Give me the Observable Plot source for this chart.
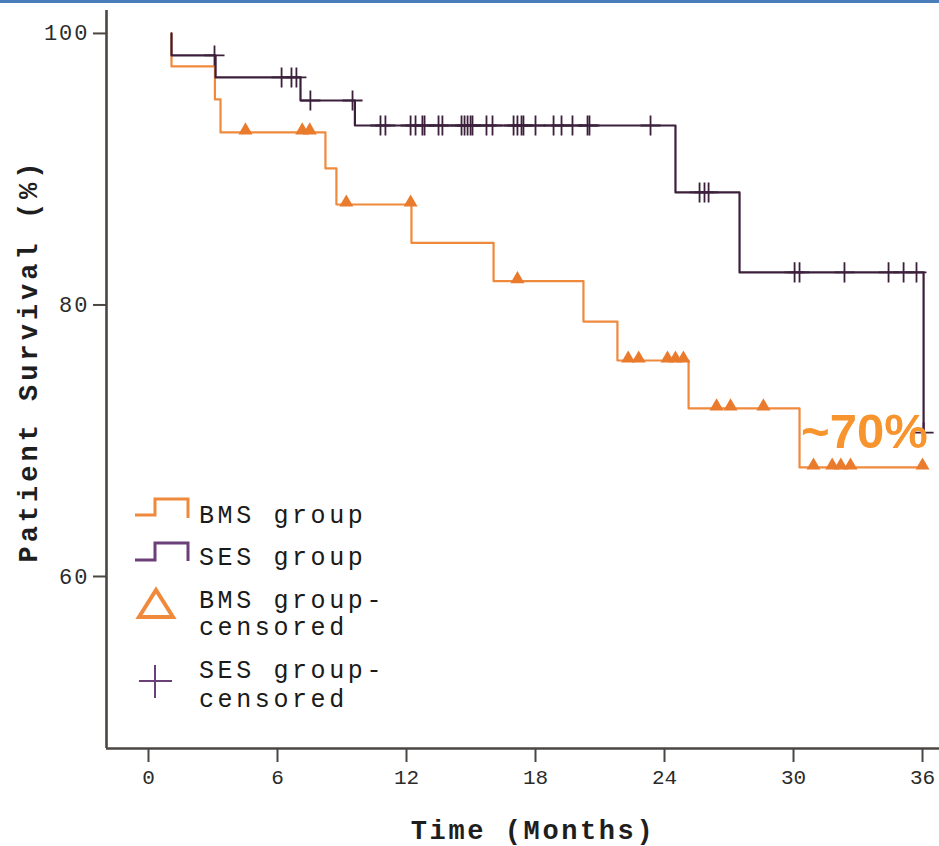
<!DOCTYPE html>
<html>
<head>
<meta charset="utf-8">
<script src="https://cdn.jsdelivr.net/npm/d3@7"></script>
<script src="https://cdn.jsdelivr.net/npm/@observablehq/plot@0.6"></script>
<style>
  html, body { margin: 0; padding: 0; background: #ffffff; }
  #wrap { position: relative; width: 939px; height: 846px; overflow: hidden; }
  #topbar { position: absolute; left: 0; top: 0; width: 939px; height: 3px; background: #4a7ebb; }
  #legend { position: absolute; left: 0; top: 0; pointer-events: none; }
</style>
</head>
<body>
<div id="wrap"><div id="topbar"></div></div>
<script>
// ---------- data ----------
// Kaplan-Meier steps: time (months) and survival (%)
const bmsTime = [1.07, 1.07, 3.09, 3.35, 8.23, 8.74, 12.23, 16.05, 20.23, 21.81, 25.12, 30.28, 36.05];
const bmsSurv = [100, 97.57, 95.14, 92.71, 90.06, 87.4, 84.58, 81.75, 78.78, 75.91, 72.38, 68.03, 68.03];
const sesTime = [1.07, 1.07, 3.12, 7.07, 9.6, 24.51, 27.49, 36.05];
const sesSurv = [100, 98.38, 96.76, 95.06, 93.22, 88.29, 82.4, 70.6];
// censored observation times (months)
const bmsCensored = [4.51, 7.15, 7.5, 9.2, 12.19, 17.16, 22.31, 22.8, 24.14, 24.51, 24.88, 26.42, 27.07, 28.6,
  30.93, 31.8, 32.2, 32.65, 36.0];
const sesCensored = [3.07, 6.19, 6.65, 6.88, 7.53, 9.49, 10.79, 11.02, 12.19, 12.42, 12.74, 12.84, 13.49, 13.67,
  14.56, 14.7, 14.84, 14.98, 15.07, 15.72, 16.0, 16.98, 17.16, 17.35, 17.44, 18.0, 18.84, 19.21, 19.72,
  20.42, 20.51, 23.35, 25.63, 25.86, 26.05, 30.05, 30.28, 32.37, 34.42, 35.12, 35.72, 36.05];
// axes
const xTicks = [0, 6, 12, 18, 24, 30, 36];
const yTicks = [60, 80, 100];
const xDomain = [-1.953, 36.79];
const yDomain = [47.33, 101.69];
const xTitle = "Time (Months)";
const yTitle = "Patient Survival (%)";
// annotation
const noteText = ["~70%"];
const noteTime = [33.3];
const noteSurv = [70.6];
// legend
const legendLabels = [["BMS group"], ["SES group"], ["BMS group-", "censored"], ["SES group-", "censored"]];

// ---------- styles ----------
const orange = "#ef8a3c";
const orangeFill = "#ea7a2c";
const plum = "#3b1f3b";
const plumLegend = "#6b3f78";
const axisColor = "#4a4642";
const noteColor = "#f7942e";

// ---------- build tables ----------
const bms = bmsTime.map((t, i) => ({t, s: bmsSurv[i]}));
const ses = sesTime.map((t, i) => ({t, s: sesSurv[i]}));
function levelAt(curve, t) {
  let s = curve[0].s;
  for (const p of curve) if (p.t <= t + 1e-9) s = p.s;
  return s;
}
const bmsC = bmsCensored.map(t => ({t, s: levelAt(bms, t)}));
const sesC = sesCensored.map(t => ({t, s: levelAt(ses, t)}));
const note = noteText.map((text, i) => ({text, t: noteTime[i], s: noteSurv[i]}));

const chart = Plot.plot({
  width: 939,
  height: 846,
  marginLeft: 106,
  marginRight: 0,
  marginTop: 10,
  marginBottom: 98,
  x: {domain: xDomain},
  y: {domain: yDomain},
  style: {fontFamily: "'Liberation Mono', monospace", background: "transparent", color: "#2b2b2b", overflow: "visible"},
  marks: [
    Plot.ruleX([xDomain[0]], {stroke: axisColor, strokeWidth: 2.6}),
    Plot.ruleY([yDomain[0]], {stroke: axisColor, strokeWidth: 2.6}),
    Plot.axisY({ticks: yTicks, tickSize: 13, tickPadding: 4, fontSize: 22, label: null, stroke: axisColor, strokeWidth: 2}),
    Plot.axisX({ticks: xTicks, tickSize: 14, tickPadding: 7, fontSize: 21, label: null, stroke: axisColor, strokeWidth: 2}),
    Plot.line(bms, {x: "t", y: "s", curve: "step-after", stroke: orange, strokeWidth: 2.2}),
    Plot.line(ses, {x: "t", y: "s", curve: "step-after", stroke: plum, strokeWidth: 2.2}),
    Plot.dot(bmsC, {x: "t", y: "s", symbol: "triangle", r: 5.2, fill: orangeFill, stroke: "none", dy: -2}),
    Plot.dot(sesC, {x: "t", y: "s", symbol: "plus", r: 6.5, stroke: plum, strokeWidth: 1.8}),
    Plot.text(note, {x: "t", y: "s", text: "text", fontFamily: "'Liberation Sans', Arial, sans-serif",
      fontWeight: "bold", fontSize: 49, fill: noteColor, textAnchor: "middle", lineAnchor: "middle"}),
    Plot.text([xTitle], {frameAnchor: "bottom", dx: 10, dy: 82, fontWeight: "bold", fontSize: 27,
      fill: "#1e1e1e", textAnchor: "middle", lineAnchor: "middle"}),
    Plot.text([yTitle], {frameAnchor: "left", dx: -78, dy: -19, rotate: -90, fontWeight: "bold", fontSize: 27,
      fill: "#1e1e1e", textAnchor: "middle", lineAnchor: "middle"})
  ]
});

const wrap = document.getElementById("wrap");
wrap.insertBefore(chart, wrap.firstChild);
const svg = d3.select(chart);
svg.selectAll("g[aria-label='y-axis tick label'] text").attr("letter-spacing", "2px");
svg.selectAll("g[aria-label='text'] text").each(function() {
  const t = d3.select(this).text();
  if (t === xTitle) d3.select(this).attr("letter-spacing", "2.6px");
  if (t === yTitle) d3.select(this).attr("letter-spacing", "4px");
});

// ---------- legend overlay ----------
const lg = d3.select(wrap).append("svg").attr("id", "legend").attr("width", 939).attr("height", 846);
lg.append("path").attr("d", "M135,515H155V499H188V518").attr("fill", "none").attr("stroke", orange).attr("stroke-width", 3);
lg.append("path").attr("d", "M135,560H155V543H188V561").attr("fill", "none").attr("stroke", plumLegend).attr("stroke-width", 3);
lg.append("path").attr("d", "M139,617L156,590L173,617Z").attr("fill", "none").attr("stroke", orange).attr("stroke-width", 4).attr("stroke-linejoin", "miter");
lg.append("path").attr("d", "M139,681H172M155,665V698").attr("fill", "none").attr("stroke", plumLegend).attr("stroke-width", 2);
const baselines = [[523], [565], [608, 635], [678, 707]];
legendLabels.forEach((lines, i) => {
  lines.forEach((line, j) => {
    lg.append("text").attr("x", 199).attr("y", baselines[i][j])
      .attr("font-family", "'Liberation Mono', monospace").attr("font-size", 25)
      .attr("letter-spacing", "3.6px").attr("fill", "#1a1a1a").text(line);
  });
});
</script>
</body>
</html>
